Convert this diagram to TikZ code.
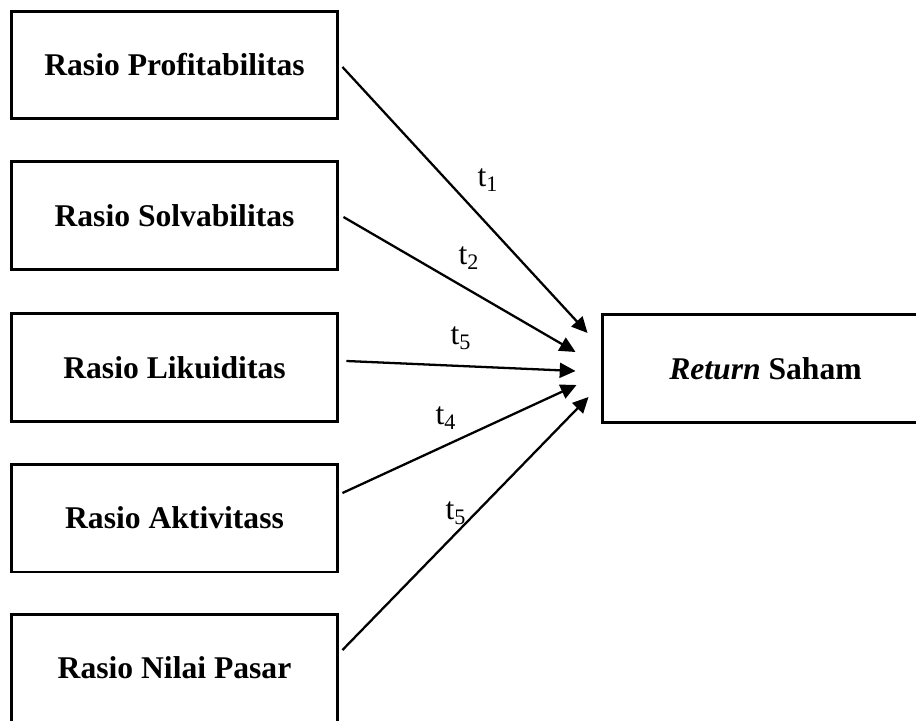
\documentclass[tikz,border=0pt]{standalone}
\usepackage{fontspec}
\setmainfont{Liberation Serif}
\usetikzlibrary{positioning, arrows.meta}

\begin{document}
\begin{tikzpicture}[
  x=0.02cm, y=-0.02cm,
  ratio/.style={draw, line width=1.7pt, minimum width=6.54cm, minimum height=2.16cm, font=\fontsize{18}{22}\selectfont\bfseries, inner sep=0pt},
  lbl/.style={font=\fontsize{18}{22}\selectfont, inner sep=0pt},
  arrow/.style={-{Triangle[length=9pt, width=8.5pt]}, line width=1.3pt}
]
\clip (0,0) rectangle (916,720);

\node[ratio] (prof) at (174.5,65) {Rasio Profitabilitas};
\node[ratio] (solv) at (174.5,215.5) {Rasio Solvabilitas};
\node[ratio] (liku) at (174.5,367.5) {Rasio Likuiditas};
\node[ratio] (akti) at (174.5,518) {Rasio Aktivitass};
\node[ratio] (pasar) at (174.5,668) {Rasio Nilai Pasar};

\node[ratio] (ret) at (765.5,368.5) {\textit{Return} Saham};

% start and end points of the paths
\coordinate (s1) at ([shift={(3,2)}]prof.east);
\coordinate (s2) at ([shift={(4,1.5)}]solv.east);
\coordinate (s3) at ([shift={(7,-6.5)}]liku.east);
\coordinate (s4) at ([shift={(3,-25)}]akti.east);
\coordinate (s5) at ([shift={(3,-18)}]pasar.east);

\coordinate (e1) at ([shift={(-13,-35.5)}]ret.west);
\coordinate (e2) at ([shift={(-25,-16.5)}]ret.west);
\coordinate (e3) at ([shift={(-25,2.5)}]ret.west);
\coordinate (e4) at ([shift={(-24,16.5)}]ret.west);
\coordinate (e5) at ([shift={(-12,28.5)}]ret.west);

\draw[arrow] (s1) -- (e1);
\draw[arrow] (s2) -- (e2);
\draw[arrow] (s3) -- (e3);
\draw[arrow] (s4) -- (e4);
\draw[arrow] (s5) -- (e5);

\node[lbl] (t1) at (488,180) {t\textsubscript{1}};
\node[lbl] (t2) at (469,258) {t\textsubscript{2}};
\node[lbl] (t3) at (461,338) {t\textsubscript{5}};
\node[lbl] (t4) at (446,418) {t\textsubscript{4}};
\node[lbl] (t5) at (456,513) {t\textsubscript{5}};

\end{tikzpicture}
\end{document}
